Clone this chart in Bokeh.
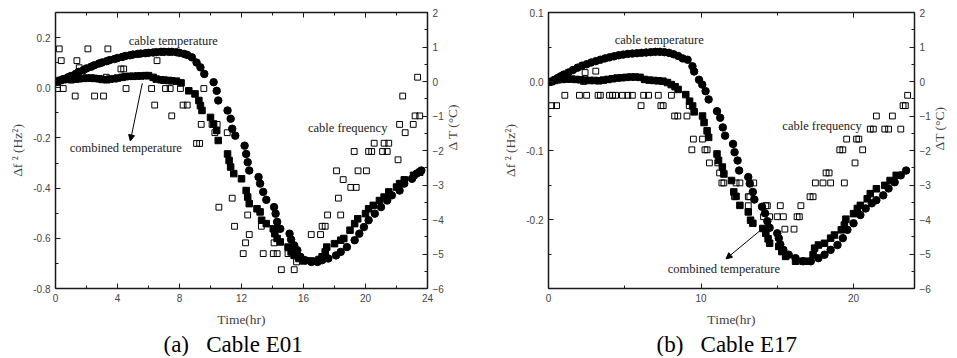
import math
from bokeh.plotting import figure
from bokeh.layouts import row
from bokeh.models import (Range1d, LinearAxis, SingleIntervalTicker, NumeralTickFormatter,
                          Label, Arrow, NormalHead, Title, CustomJSTickFormatter)
from bokeh.embed import file_html
from bokeh.resources import INLINE

# ---------------- Panel (a) Cable E01 ----------------
a_cable_t = [0.1, 0.3, 0.5, 0.8, 1.0, 1.3, 1.5, 1.8, 2.0, 2.3, 2.5, 2.8, 3.0, 3.3, 3.5, 3.8,
             4.0, 4.3, 4.5, 4.8, 5.0, 5.3, 5.5, 5.8, 6.0, 6.3, 6.5, 6.8, 7.0, 7.3, 7.5, 7.8,
             8.0, 8.3, 8.5, 8.8, 9.1, 9.35, 9.6, 10.2, 10.4, 10.5, 11.1, 11.3, 11.4, 11.6,
             12.2, 12.3, 12.4, 12.5, 13.1, 13.2, 13.4, 13.6, 14.1, 14.2, 14.3, 14.5, 15.1, 15.2,
             15.4, 15.6, 15.8, 16.1, 16.5, 16.9, 17.2, 17.6, 18.1, 18.4, 18.8, 19.3, 19.6, 19.9,
             20.2, 20.6, 21.0, 21.4, 21.7, 22.2, 22.5, 23.0, 23.3, 23.6]
a_cable_T = [0.00, 0.03, 0.07, 0.12, 0.16, 0.22, 0.28, 0.33, 0.38, 0.43, 0.47, 0.52, 0.55, 0.59, 0.62, 0.65,
             0.68, 0.71, 0.74, 0.76, 0.78, 0.80, 0.81, 0.82, 0.83, 0.84, 0.85, 0.86, 0.86, 0.86, 0.86, 0.85,
             0.83, 0.80, 0.77, 0.70, 0.55, 0.41, 0.22, -0.02, -0.27, -0.55, -0.84, -1.08, -1.37, -1.57,
             -1.86, -2.10, -2.34, -2.58, -2.77, -2.96, -3.20, -3.43, -3.64, -3.83, -4.07, -4.27, -4.41, -4.58,
             -4.75, -4.89, -5.08, -5.18, -5.23, -5.23, -5.18, -5.13, -5.04, -4.94, -4.80, -4.60, -4.41, -4.22,
             -4.02, -3.83, -3.64, -3.45, -3.30, -3.16, -2.96, -2.82, -2.67, -2.58]

a_comb_t = [0.1, 0.3, 0.5, 0.8, 1.0, 1.3, 1.5, 1.8, 2.0, 2.3, 2.5, 2.8, 3.0, 3.3, 3.5, 3.8,
            4.0, 4.3, 4.5, 4.8, 5.0, 5.3, 5.5, 5.8, 6.0, 6.3, 6.5, 6.8, 7.0, 7.3, 7.5, 7.8,
            8.1, 8.6, 9.0, 9.25, 9.35, 9.45, 10.0, 10.2, 10.4, 10.5, 11.1, 11.2, 11.3, 11.5,
            12.0, 12.3, 12.4, 12.5, 13.0, 13.2, 13.3, 13.6, 14.05, 14.15, 14.3, 14.5, 15.0, 15.2,
            15.4, 15.7, 16.0, 16.5, 17.0, 17.2, 17.4, 17.5, 18.0, 18.4, 18.6, 19.0, 19.3, 19.5,
            20.0, 20.2, 20.5, 20.9, 21.2, 21.5, 22.0, 22.2, 22.5, 23.1, 23.5]
a_comb_T = [0.00, 0.03, 0.05, 0.07, 0.05, 0.07, 0.08, 0.09, 0.10, 0.10, 0.09, 0.08, 0.06, 0.05, 0.07, 0.08,
            0.10, 0.12, 0.14, 0.15, 0.15, 0.16, 0.16, 0.17, 0.17, 0.12, 0.07, 0.05, 0.04, 0.03, 0.02, 0.01,
            -0.04, -0.27, -0.36, -0.55, -0.70, -0.84, -1.04, -1.23, -1.42, -1.71, -2.10, -2.29, -2.48, -2.67,
            -2.82, -3.16, -3.35, -3.54, -3.69, -3.78, -4.02, -4.12, -4.27, -4.41, -4.55, -4.65, -4.80, -4.94,
            -5.04, -5.13, -5.20, -5.20, -5.16, -5.08, -4.94, -4.80, -4.70, -4.60, -4.55, -4.31, -4.12, -3.98,
            -3.83, -3.69, -3.59, -3.45, -3.35, -3.20, -3.06, -2.96, -2.85, -2.72, -2.63]

a_freq_t = [0.24, 0.37, 0.13, 0.5, 1.27, 1.38, 1.53, 2.09, 2.52, 3.1, 3.38, 3.28, 4.22, 4.4, 4.55,
            6.55, 6.2, 6.4, 7.1, 7.4, 7.5, 8.06, 8.23, 8.5, 9.1, 9.3, 9.4, 9.57, 10.1, 10.28,
            10.43, 10.54, 11.08, 11.4, 11.55, 12.26, 12.11, 12.4, 12.5, 13.28, 13.4, 14.1, 14.05, 14.3,
            14.57, 15.0, 15.4, 15.55, 16.5, 17.1, 17.2, 17.4, 17.55, 18.13, 18.25, 18.4, 18.56, 19.05,
            19.4, 19.27, 19.52, 20.06, 20.2, 20.4, 20.56, 21.1, 21.2, 21.4, 21.5, 22.1, 22.2, 22.4,
            22.56, 23.08, 23.2, 23.5, 23.36]
a_freq_v = [0.155, 0.108, -0.003, -0.003, -0.033, 0.108, 0.080, 0.155, -0.033, -0.033, 0.155, 0.042, 0.075, 0.075, -0.003,
            0.108, -0.003, -0.069, -0.003, -0.003, -0.112, -0.003, -0.069, -0.069, -0.222, -0.222, -0.146, -0.003, -0.146, -0.179,
            -0.146, -0.476, -0.179, -0.440, -0.552, -0.618, -0.661, -0.507, -0.585, -0.552, -0.661, -0.618, -0.661, -0.661,
            -0.725, -0.661, -0.725, -0.694, -0.585, -0.585, -0.552, -0.552, -0.507, -0.331, -0.440, -0.507, -0.366, -0.397,
            -0.397, -0.254, -0.331, -0.331, -0.254, -0.254, -0.221, -0.254, -0.221, -0.254, -0.221, -0.287, -0.146, -0.033,
            -0.179, -0.146, -0.112, -0.112, 0.042]

# ---------------- Panel (b) Cable E17 ----------------
b_cable_t = [0.0, 0.2, 0.4, 0.6, 0.8, 1.0, 1.3, 1.6, 1.9, 2.2, 2.5, 2.8, 3.1, 3.4, 3.7, 4.0,
             4.3, 4.6, 4.9, 5.2, 5.5, 5.8, 6.1, 6.4, 6.7, 7.0, 7.3, 7.6, 7.9, 8.2, 8.5, 8.8,
             9.12, 9.44, 9.55, 9.87, 10.08, 10.3, 10.5, 11.05, 11.26, 11.43, 11.58, 12.1, 12.2, 12.4,
             12.5, 13.1, 13.2, 13.4, 13.5, 14.0, 14.2, 14.35, 14.5, 15.0, 15.1, 15.2, 15.4, 15.75,
             16.2, 16.7, 17.2, 17.7, 18.1, 18.5, 18.95, 19.3, 19.6, 20.0, 20.45, 20.8, 21.2, 21.5,
             21.95, 22.3, 22.7, 23.1, 23.45]
b_cable_T = [-0.02, 0.00, 0.05, 0.10, 0.15, 0.20, 0.26, 0.33, 0.40, 0.46, 0.50, 0.55, 0.59, 0.63, 0.67, 0.70,
             0.73, 0.76, 0.78, 0.80, 0.81, 0.82, 0.83, 0.84, 0.85, 0.86, 0.86, 0.85, 0.83, 0.79, 0.74, 0.67,
             0.63, 0.44, 0.29, 0.05, -0.09, -0.28, -0.52, -0.86, -1.05, -1.33, -1.57, -1.81, -2.05, -2.29,
             -2.58, -2.77, -2.96, -3.20, -3.42, -3.63, -3.82, -4.05, -4.24, -4.40, -4.54, -4.72, -4.88, -5.02,
             -5.12, -5.21, -5.21, -5.12, -5.02, -4.88, -4.74, -4.54, -4.30, -4.11, -3.87, -3.68, -3.53, -3.44,
             -3.30, -3.10, -2.92, -2.72, -2.58]

b_comb_t = [0.0, 0.2, 0.4, 0.6, 0.9, 1.2, 1.5, 1.8, 2.1, 2.4, 2.7, 3.0, 3.3, 3.6, 3.9, 4.2,
            4.5, 4.8, 5.1, 5.4, 5.7, 6.0, 6.3, 6.6, 6.9, 7.2, 7.5, 7.8, 8.05, 8.3, 8.5, 9.0,
            9.25, 9.45, 9.55, 10.1, 10.2, 10.4, 10.5, 11.05, 11.15, 11.4, 11.5, 12.0, 12.15, 12.3,
            12.55, 13.1, 13.25, 13.4, 14.05, 14.25, 14.4, 14.5, 15.1, 15.3, 15.55, 16.2, 16.7, 17.1,
            17.35, 17.45, 17.7, 18.1, 18.5, 18.75, 19.2, 19.4, 19.5, 20.0, 20.25, 20.45, 20.9, 21.1,
            21.5, 22.05, 22.4, 22.8]
b_comb_T = [-0.02, 0.00, 0.03, 0.05, 0.06, 0.07, 0.07, 0.06, 0.05, 0.04, 0.03, 0.03, 0.02, 0.04, 0.06, 0.08,
            0.10, 0.11, 0.12, 0.13, 0.13, 0.12, 0.06, 0.04, 0.03, 0.02, 0.01, -0.03, -0.09, -0.15, -0.23, -0.38,
            -0.57, -0.71, -0.88, -1.00, -1.19, -1.43, -1.62, -2.10, -2.29, -2.48, -2.68, -2.87, -3.20, -3.33,
            -3.59, -3.78, -4.02, -4.11, -4.26, -4.40, -4.56, -4.69, -4.78, -4.93, -5.07, -5.21, -5.21, -5.21,
            -5.02, -4.83, -4.74, -4.69, -4.54, -4.45, -4.30, -4.16, -3.99, -3.83, -3.68, -3.59, -3.40, -3.25,
            -3.11, -3.01, -2.87, -2.72]

b_freq_t = [0.2, 0.53, 1.07, 2.03, 2.3, 2.4, 2.5, 3.1, 3.25, 3.4, 4.0, 4.2, 4.4, 4.85, 5.2, 5.5,
            6.07, 6.24, 6.56, 7.2, 7.37, 7.52, 8.06, 8.27, 8.48, 9.08, 9.23, 9.5, 9.4, 10.1,
            10.26, 10.4, 10.55, 11.1, 11.22, 11.37, 11.5, 12.2, 12.3, 12.55, 13.1, 13.2, 13.1, 13.46,
            14.25, 14.35, 14.1, 14.5, 15.2, 15.0, 15.4, 15.5, 16.1, 16.3, 16.45, 16.55, 17.15, 17.35,
            17.5, 18.0, 18.5, 18.2, 18.4, 19.4, 19.1, 19.3, 19.55, 20.2, 20.35, 20.1, 20.6, 21.1,
            21.3, 22.05, 22.3, 23.1, 21.5, 22.55, 23.25, 23.4, 23.55]
b_freq_v = [-0.035, -0.035, -0.020, -0.020, 0.000, 0.013, -0.020, 0.015, -0.020, -0.020, -0.020, -0.020, -0.020, -0.020, -0.020, -0.020,
            -0.035, -0.020, -0.020, -0.020, -0.035, -0.035, -0.020, -0.050, -0.050, -0.050, -0.035, -0.0835, -0.099, -0.0835,
            -0.099, -0.099, -0.118, -0.118, -0.1325, -0.147, -0.147, -0.167, -0.147, -0.147, -0.167, -0.167, -0.180, -0.147,
            -0.180, -0.180, -0.196, -0.196, -0.180, -0.196, -0.196, -0.214, -0.214, -0.196, -0.196, -0.180, -0.167, -0.167,
            -0.147, -0.147, -0.147, -0.1325, -0.1325, -0.147, -0.099, -0.099, -0.0835, -0.0835, -0.0835, -0.118, -0.099, -0.069,
            -0.069, -0.069, -0.069, -0.069, -0.050, -0.050, -0.035, -0.035, -0.020]

AXIS_COLOR = "#1a1a1a"
TICK_TEXT = "#444444"
SERIF = "Liberation Serif"
SANS = "Liberation Sans"


def style_axis(ax, interval, minor):
    ax.ticker = SingleIntervalTicker(interval=interval, num_minor_ticks=minor)
    ax.major_tick_in = 5
    ax.major_tick_out = 0
    ax.minor_tick_in = 3
    ax.minor_tick_out = 0
    ax.axis_line_color = AXIS_COLOR
    ax.axis_line_width = 1.5
    ax.major_tick_line_color = AXIS_COLOR
    ax.minor_tick_line_color = AXIS_COLOR
    ax.major_label_text_font = SANS
    ax.major_label_text_font_size = "10px"
    ax.major_label_text_color = TICK_TEXT
    ax.major_label_standoff = 5
    ax.axis_label_text_font = SERIF
    ax.axis_label_text_font_size = "13.5px"
    ax.axis_label_text_font_style = "normal"
    ax.axis_label_text_color = TICK_TEXT


def make_panel(width, borders, yr, yint, xint, data, ylab, rlab, caption,
               texts, arrow):
    left, right, top, bottom = borders
    p = figure(width=width, height=356, output_backend="svg", toolbar_location=None,
               x_range=Range1d(0, 24), y_range=Range1d(*yr),
               min_border_left=left, min_border_right=right,
               min_border_top=top, min_border_bottom=bottom)
    p.extra_y_ranges = {"T": Range1d(-6, 2)}
    p.xgrid.visible = False
    p.ygrid.visible = False
    p.outline_line_color = None
    p.background_fill_color = "white"
    p.border_fill_color = "white"

    xa = p.xaxis[0]
    style_axis(xa, xint, 2)
    xa.axis_label = "Time(hr)"
    xa.major_label_standoff = 5
    xa.axis_label_standoff = 7

    ya = p.yaxis[0]
    style_axis(ya, yint, 2)
    ya.formatter = NumeralTickFormatter(format="0.0")
    ya.axis_label = ylab
    ya.axis_label_standoff = 5

    ra = LinearAxis(y_range_name="T", axis_label=rlab)
    style_axis(ra, 1, 2)
    ra.axis_label_standoff = 6
    ra.axis_label_orientation = math.pi / 2
    p.add_layout(ra, "right")

    ta = LinearAxis()
    style_axis(ta, xint, 2)
    ta.formatter = CustomJSTickFormatter(code="return ''")
    ta.major_label_standoff = 0
    p.add_layout(ta, "above")

    (ft, fv), (mt, mT), (ct, cT) = data
    p.scatter(ft, fv, marker="square", size=5.8, fill_color=None, line_color="black", line_width=1)
    p.scatter(mt, mT, marker="square", size=6.5, fill_color="black", line_color="black",
              y_range_name="T")
    p.scatter(ct, cT, marker="circle", size=7.5, fill_color="black", line_color="black",
              y_range_name="T")

    for (tx, x, y) in texts:
        p.add_layout(Label(x=x, y=y, text=tx, text_font=SERIF, text_font_size="12.5px",
                           text_align="center", text_baseline="middle", text_color="#222222"))
    x0, y0, x1, y1 = arrow
    p.add_layout(Arrow(end=NormalHead(size=6, fill_color="black", line_color="black", line_width=1),
                       x_start=x0, y_start=y0, x_end=x1, y_end=y1, line_width=1, line_color="black"))

    cap = Title(text=caption, align="left", offset=108, text_font=SERIF,
                text_font_size="23px", text_font_style="normal", text_color="black", standoff=0)
    p.add_layout(cap, "below")
    return p


NB = "\u00a0"
pa = make_panel(480, (55, 53, 12, 356 - 12 - 277), (-0.8, 0.3), 0.2, 4,
                ((a_freq_t, a_freq_v), (a_comb_t, a_comb_T), (a_cable_t, a_cable_T)),
                "Δf ² (Hz²)", "Δ T (°C)", "(a)" + NB * 3 + "Cable E01",
                [("cable temperature", 7.6, 0.185),
                 ("combined temperature", 4.54, -0.241),
                 ("cable frequency", 18.85, -0.16)],
                (5.6, 0.018, 4.83, -0.212))

pb = make_panel(477, (68, 34, 12, 356 - 12 - 279), (-0.3, 0.1), 0.1, 10,
                ((b_freq_t, b_freq_v), (b_comb_t, b_comb_T), (b_cable_t, b_cable_T)),
                "Δf ² (Hz²)", "ΔT (°C)", "(b)" + NB * 3 + "Cable E17",
                [("cable temperature", 7.26, 0.06),
                 ("combined temperature", 11.5, -0.272),
                 ("cable frequency", 17.94, -0.065)],
                (13.8, -0.2175, 11.64, -0.257))

layout = row(pa, pb)
open("out.html", "w").write(file_html(layout, INLINE))
